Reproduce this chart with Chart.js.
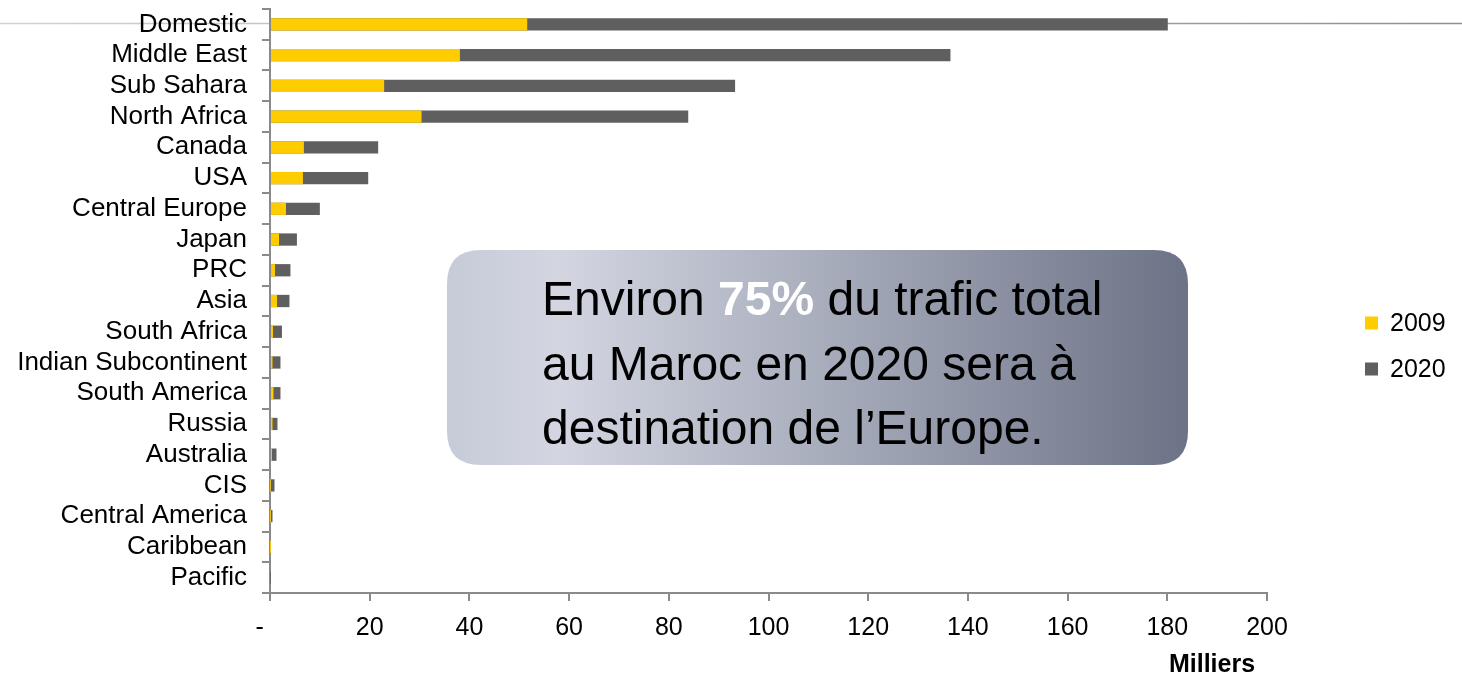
<!DOCTYPE html>
<html>
<head>
<meta charset="utf-8">
<script src="https://cdn.jsdelivr.net/npm/chart.js"></script>
<style>
  html, body { margin: 0; padding: 0; background: #fff; }
  #wrap { width: 1462px; height: 677px; position: relative; }
</style>
</head>
<body>
<div id="wrap"><canvas id="c"></canvas></div>
<script>
const categories = ['Domestic','Middle East','Sub Sahara','North Africa','Canada','USA','Central Europe','Japan','PRC','Asia','South Africa','Indian Subcontinent','South America','Russia','Australia','CIS','Central America','Caribbean','Pacific'];
const values2009 = [51.6, 38.1, 22.9, 30.4, 6.8, 6.6, 3.2, 1.8, 1.0, 1.4, 0.6, 0.5, 0.7, 0.5, 0.4, 0.05, 0.03, 0.02, 0];
const values2020 = [180.1, 136.5, 93.3, 83.9, 21.7, 19.7, 10.0, 5.4, 4.1, 3.9, 2.4, 2.1, 2.1, 1.5, 1.3, 0.9, 0.5, 0.15, 0.05];
const seriesNames = ['2009', '2020'];
const xTicks = [0, 20, 40, 60, 80, 100, 120, 140, 160, 180, 200];
const axisTitle = 'Milliers';
const calloutLines = [
  [{t:'Environ ', b:false}, {t:'75%', b:true}, {t:' du trafic total', b:false}],
  [{t:'au Maroc en 2020 sera à', b:false}],
  [{t:'destination de l\u2019Europe.', b:false}]
];

const FONT = "'Liberation Sans', Arial, Helvetica, sans-serif";
const YELLOW = '#FFCC00';
const GRAY = '#5F5F5F';
const AXIS = '#8a8a8a';

const decoPlugin = {
  id: 'deco',
  beforeDraw(chart) {
    const ctx = chart.ctx;
    ctx.save();
    const g = ctx.createLinearGradient(0, 0, chart.width, 0);
    g.addColorStop(0, '#cfd3d8');
    g.addColorStop(1, '#8a9099');
    ctx.strokeStyle = g;
    ctx.lineWidth = 1.5;
    ctx.beginPath();
    ctx.moveTo(0, 23.5);
    ctx.lineTo(chart.width, 23.5);
    ctx.stroke();
    ctx.restore();
  },
  afterDraw(chart) {
    const ctx = chart.ctx;
    ctx.save();
    // Callout box
    const x = 447, y = 250, w = 741, h = 215, r = 34;
    const g = ctx.createLinearGradient(x, 0, x + w, 0);
    g.addColorStop(0, '#c6cbd8');
    g.addColorStop(0.15, '#d3d6e1');
    g.addColorStop(0.5, '#a9aebd');
    g.addColorStop(1, '#6c7386');
    ctx.fillStyle = g;
    ctx.beginPath();
    ctx.moveTo(x + r, y);
    ctx.lineTo(x + w - r, y);
    ctx.quadraticCurveTo(x + w, y, x + w, y + r);
    ctx.lineTo(x + w, y + h - r);
    ctx.quadraticCurveTo(x + w, y + h, x + w - r, y + h);
    ctx.lineTo(x + r, y + h);
    ctx.quadraticCurveTo(x, y + h, x, y + h - r);
    ctx.lineTo(x, y + r);
    ctx.quadraticCurveTo(x, y, x + r, y);
    ctx.closePath();
    ctx.fill();

    const baselines = [315, 380, 444];
    ctx.textBaseline = 'alphabetic';
    ctx.textAlign = 'left';
    calloutLines.forEach((parts, i) => {
      let cx = 542;
      parts.forEach(p => {
        ctx.font = (p.b ? 'bold ' : '') + '48px ' + FONT;
        ctx.fillStyle = p.b ? '#ffffff' : '#000000';
        ctx.fillText(p.t, cx, baselines[i]);
        cx += ctx.measureText(p.t).width;
      });
    });

    // Legend
    const colors = [YELLOW, GRAY];
    const ly = [323, 369];
    ctx.font = '25px ' + FONT;
    ctx.textBaseline = 'middle';
    seriesNames.forEach((n, i) => {
      ctx.fillStyle = colors[i];
      ctx.fillRect(1365, ly[i] - 6.5, 13, 13);
      ctx.fillStyle = '#000';
      ctx.fillText(n, 1390, ly[i] + 1);
    });

    // Axis unit title
    ctx.font = 'bold 25px ' + FONT;
    ctx.textAlign = 'center';
    ctx.fillStyle = '#000';
    ctx.fillText(axisTitle, 1212, 665);
    ctx.restore();
  }
};

new Chart(document.getElementById('c'), {
  type: 'bar',
  data: {
    labels: categories,
    datasets: [
      { label: seriesNames[0], data: values2009, backgroundColor: YELLOW, order: 0, borderWidth: 0 },
      { label: seriesNames[1], data: values2020, backgroundColor: GRAY, order: 1, borderWidth: 0 }
    ]
  },
  options: {
    indexAxis: 'y',
    responsive: true,
    maintainAspectRatio: false,
    animation: false,
    grouped: false,
    barPercentage: 0.4,
    categoryPercentage: 1.0,
    layout: { padding: { top: 9, right: 195, left: 0, bottom: 0 } },
    plugins: { legend: { display: false }, tooltip: { enabled: false } },
    scales: {
      x: {
        type: 'linear',
        min: 0, max: 200,
        afterBuildTicks(scale) { scale.ticks = xTicks.map(v => ({ value: v })); },
        afterFit(scale) { scale.height = 84; scale.paddingLeft = 0; scale.paddingRight = 0; },
        ticks: {
          color: '#000',
          font: { family: FONT, size: 25 },
          padding: 12,
          maxRotation: 0,
          callback: (v) => v === 0 ? '-\u00a0\u00a0\u00a0' : String(v)
        },
        grid: { drawOnChartArea: false, drawTicks: true, tickLength: 8, color: AXIS, lineWidth: 2 },
        border: { display: true, color: AXIS, width: 2 }
      },
      y: {
        type: 'category',
        afterFit(scale) { scale.width = 270; scale.paddingTop = 0; scale.paddingBottom = 0; },
        ticks: {
          color: '#000',
          font: { family: FONT, size: 26 },
          padding: 15,
          autoSkip: false
        },
        grid: { drawOnChartArea: false, drawTicks: true, tickLength: 8, color: AXIS, lineWidth: 2, offset: true },
        border: { display: true, color: AXIS, width: 2 }
      }
    }
  },
  plugins: [decoPlugin]
});
</script>
</body>
</html>
